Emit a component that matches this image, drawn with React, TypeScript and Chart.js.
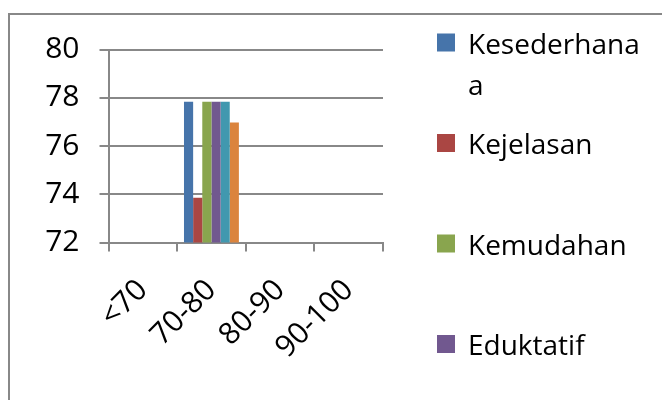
import React, { useEffect, useRef } from "react";
import { Chart, registerables } from "chart.js";

Chart.register(...registerables);

const categories = ["<70", "70-80", "80-90", "90-100"];
const seriesNames = ["Kesederhanaa", "Kejelasan", "Kemudahan", "Eduktatif", "Kemenarikan", "Kebermanfaatan"];
const seriesColors = ["#4674AA", "#AA4643", "#89A54E", "#71588F", "#4198AF", "#DB843D"];
const kesederhanaan: (number | null)[] = [null, 77.83, null, null];
const kejelasan: (number | null)[] = [null, 73.86, null, null];
const kemudahan: (number | null)[] = [null, 77.83, null, null];
const eduktatif: (number | null)[] = [null, 77.83, null, null];
const kemenarikan: (number | null)[] = [null, 77.83, null, null];
const kebermanfaatan: (number | null)[] = [null, 76.97, null, null];
const seriesValues = [kesederhanaan, kejelasan, kemudahan, eduktatif, kemenarikan, kebermanfaatan];
const yMin = 72;
const yMax = 80;
const yStep = 2;

const FONT = '"Open Sans", sans-serif';
const GRAY = "#888888";

function wrapText(ctx: CanvasRenderingContext2D, text: string, maxWidth: number): string[] {
  const lines: string[] = [];
  let cur = "";
  for (const ch of text) {
    if (cur && ctx.measureText(cur + ch).width > maxWidth) {
      lines.push(cur);
      cur = ch;
    } else {
      cur += ch;
    }
  }
  if (cur) lines.push(cur);
  return lines;
}

const framePlugin = {
  id: "frameAndLegend",
  afterDraw(chart: any) {
    const ctx: CanvasRenderingContext2D = chart.ctx;
    ctx.save();
    // outer frame (top and left visible)
    ctx.strokeStyle = GRAY;
    ctx.lineWidth = 2;
    ctx.beginPath();
    ctx.moveTo(9, 400);
    ctx.lineTo(9, 14);
    ctx.lineTo(662, 14);
    ctx.stroke();
    // legend
    ctx.font = `28px ${FONT}`;
    ctx.textBaseline = "alphabetic";
    ctx.textAlign = "left";
    chart.data.datasets.forEach((ds: any, i: number) => {
      const top = 33.5 + i * 100.5;
      ctx.fillStyle = ds.backgroundColor;
      ctx.fillRect(437, top, 18, 18);
      ctx.fillStyle = "#000";
      const lines = wrapText(ctx, ds.label, 180);
      lines.forEach((ln, j) => ctx.fillText(ln, 468, top + 20 + j * 41));
    });
    ctx.restore();
  },
};

export default function App() {
  const ref = useRef<HTMLCanvasElement | null>(null);
  useEffect(() => {
    if (!ref.current) return;
    const chart = new Chart(ref.current, {
      type: "bar",
      data: {
        labels: categories,
        datasets: seriesNames.map((name, i) => ({
          label: name,
          data: seriesValues[i],
          backgroundColor: seriesColors[i],
          borderWidth: 0,
          categoryPercentage: 0.8,
          barPercentage: 1,
        })),
      },
      options: {
        animation: false,
        responsive: false,
        devicePixelRatio: 1,
        layout: { padding: { top: 49.5, right: 279, left: 0, bottom: 0 } },
        plugins: { legend: { display: false }, tooltip: { enabled: false } },
        scales: {
          x: {
            afterFit: (s: any) => {
              s.height = 157.5;
            },
            grid: {
              drawOnChartArea: false,
              drawTicks: true,
              tickLength: 9,
              offset: true,
              color: GRAY,
              lineWidth: 2,
            },
            border: { display: true, color: GRAY, width: 2 },
            ticks: {
              autoSkip: false,
              maxRotation: 45,
              minRotation: 45,
              padding: 21,
              color: "#000",
              font: { family: FONT, size: 30 },
            },
          },
          y: {
            min: yMin,
            max: yMax,
            afterFit: (s: any) => {
              s.width = 108.5;
            },
            grid: { color: GRAY, lineWidth: 2, tickLength: 9, drawTicks: true },
            border: { display: true, color: GRAY, width: 2 },
            ticks: {
              stepSize: yStep,
              padding: 20,
              color: "#000",
              font: { family: FONT, size: 30 },
            },
          },
        },
      },
      plugins: [framePlugin],
    });
    return () => chart.destroy();
  }, []);
  return (
    <div style={{ position: "fixed", left: 0, top: 0, width: 662, height: 400, overflow: "hidden", background: "#fff" }}>
      <canvas ref={ref} width={662} height={400} style={{ display: "block" }} />
    </div>
  );
}
